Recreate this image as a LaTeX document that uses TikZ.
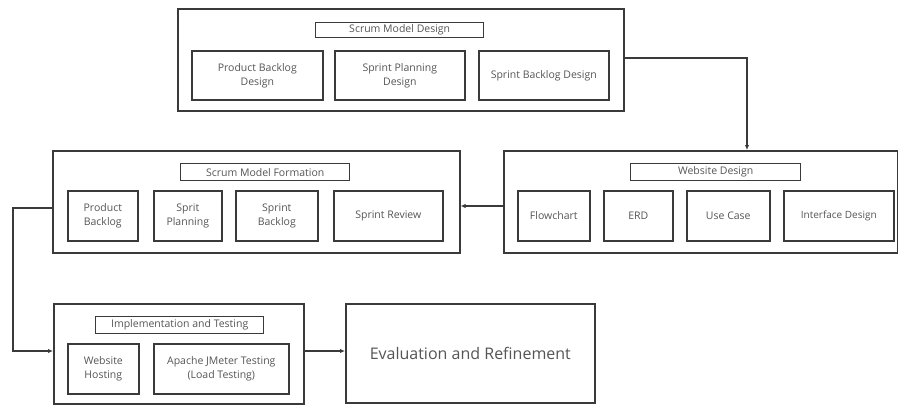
\documentclass[tikz,border=0pt]{standalone}
\usepackage{fontspec}
\setmainfont{Open Sans}
\usetikzlibrary{arrows.meta}
\definecolor{ln}{HTML}{3A3A3A}
\definecolor{tx}{HTML}{555555}
\tikzset{
  outerbox/.style={draw=ln, line width=1.6pt},
  titlebox/.style={draw=ln, line width=1.4pt},
  innerbox/.style={draw=ln, line width=1.6pt},
  lbl/.style={text=tx, font=\fontsize{10.5}{14}\selectfont, align=center},
  conn/.style={draw=ln, line width=1.4pt, -{Latex[length=5pt,width=4.5pt]}},
}
\newcommand{\bx}[6]{% name, x1, y1, x2, y2, style
  \node[#6, minimum width=#4pt-#2pt, minimum height=#5pt-#3pt, inner sep=0pt, anchor=north west] (#1) at (#2pt,-#3pt) {};}
\begin{document}
\begin{tikzpicture}[x=1pt,y=1pt]
\useasboundingbox[fill=white] (0,0) rectangle (898,-405);
% Top group
\bx{smd}{177}{8}{623}{110}{outerbox}
\bx{smdt}{315}{22}{483}{37}{titlebox}
\node[lbl] at (smdt.center) {Scrum Model Design};
\bx{pbd}{191}{50}{322}{99}{innerbox}
\node[lbl] at (pbd.center) {Product Backlog\\Design};
\bx{spd}{334}{50}{464}{99}{innerbox}
\node[lbl] at (spd.center) {Sprint Planning\\Design};
\bx{sbd}{478}{50}{608}{99}{innerbox}
\node[lbl] at (sbd.center) {Sprint Backlog Design};
% Scrum Model Formation
\bx{smf}{52}{150}{459}{252}{outerbox}
\bx{smft}{180}{163}{349}{180}{titlebox}
\node[lbl] at (smft.center) {Scrum Model Formation};
\bx{pb}{67}{190}{137}{240}{innerbox}
\node[lbl] at (pb.center) {Product\\Backlog};
\bx{sp}{153}{190}{221}{240}{innerbox}
\node[lbl] at (sp.center) {Sprit\\Planning};
\bx{sb}{235}{190}{317}{240}{innerbox}
\node[lbl] at (sb.center) {Sprint\\Backlog};
\bx{sr}{333}{190}{442}{240}{innerbox}
\node[lbl] at (sr.center) {Sprint Review};
% Website Design
\bx{wd}{503}{150}{897}{252}{outerbox}
\bx{wdt}{630}{163}{800}{180}{titlebox}
\node[lbl] at (wdt.center) {Website Design};
\bx{fc}{517}{190}{589}{240}{innerbox}
\node[lbl] at (fc.center) {Flowchart};
\bx{erd}{603}{190}{672}{240}{innerbox}
\node[lbl] at (erd.center) {ERD};
\bx{uc}{686}{190}{769}{240}{innerbox}
\node[lbl] at (uc.center) {Use Case};
\bx{ifd}{783}{190}{893}{240}{innerbox}
\node[lbl, font=\fontsize{10}{13}\selectfont] at (ifd.center) {Interface Design};
% Implementation and Testing
\bx{it}{53}{303}{303}{403}{outerbox}
\bx{itt}{95}{316}{263}{333}{titlebox}
\node[lbl] at (itt.center) {Implementation and Testing};
\bx{wh}{67}{343}{138}{393}{innerbox}
\node[lbl] at (wh.center) {Website\\Hosting};
\bx{aj}{153}{343}{288}{393}{innerbox}
\node[lbl] at (aj.center) {Apache JMeter Testing\\(Load Testing)};
% Evaluation
\bx{ev}{345}{303}{594}{402}{outerbox}
\node[text=tx, font=\fontsize{16}{19}\selectfont] at (ev.center) {Evaluation and Refinement};
% Connectors
\coordinate (c1) at (747,-58);
\draw[conn] (smd.east |- c1) -- (c1) -- (c1 |- wd.north);
\draw[conn] (wd.west |- 0,-206) -- (smf.east |- 0,-206);
\coordinate (c2) at (13,-208);
\coordinate (c3) at (13,-351);
\draw[conn] (smf.west |- c2) -- (c2) -- (c3) -- (it.west |- c3);
\draw[conn] (it.east |- c3) -- (ev.west |- c3);
\end{tikzpicture}
\end{document}
